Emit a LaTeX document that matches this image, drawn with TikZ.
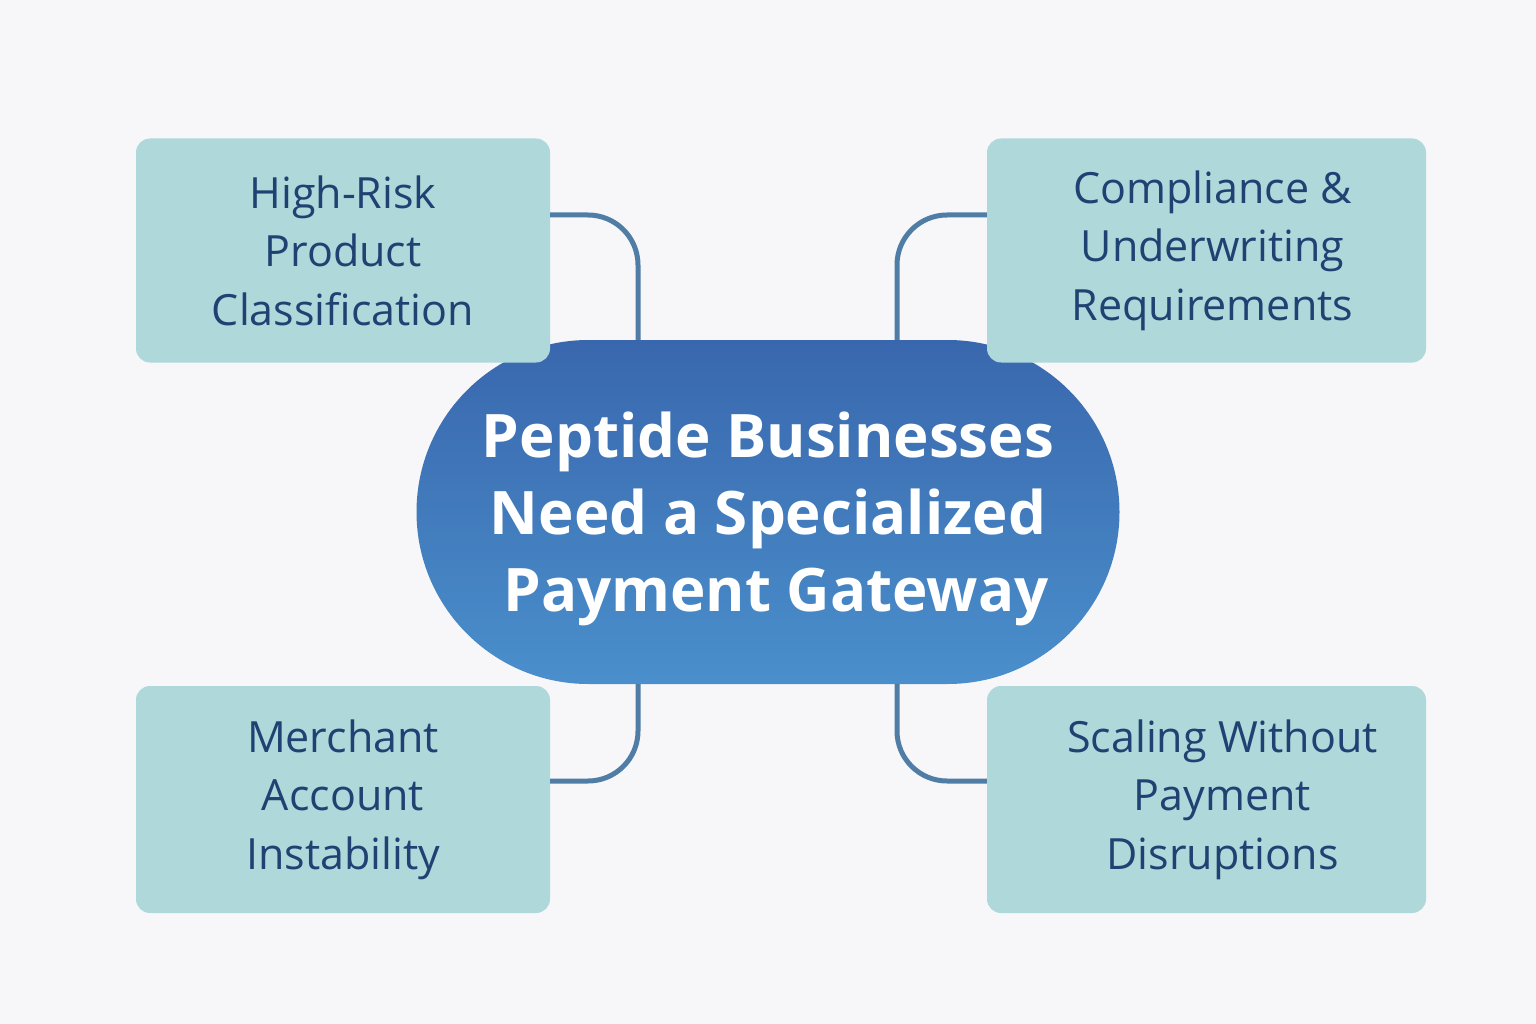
\documentclass[tikz,border=0pt]{standalone}
\usepackage{fontspec}
\setmainfont{Open Sans}
\usetikzlibrary{positioning}

\definecolor{paper}{HTML}{F7F7F9}
\definecolor{boxfill}{HTML}{AED8DA}
\definecolor{boxtext}{HTML}{1E4272}
\definecolor{linkblue}{HTML}{4F7DA6}
\definecolor{hubtop}{HTML}{3967AD}
\definecolor{hubbot}{HTML}{4A8FCC}

\tikzset{
  issue/.style={rectangle, rounded corners=14pt, fill=boxfill, text=boxtext,
    minimum width=414pt, minimum height=224pt, align=center,
    font=\fontsize{43}{58.5}\selectfont},
  hub/.style={rectangle, rounded corners=172pt, top color=hubtop, bottom color=hubbot,
    text=white, minimum width=703pt, minimum height=344pt, align=center, text depth=0pt,
    font=\fontsize{60}{77}\selectfont\bfseries},
  link/.style={draw=linkblue, line width=5pt, rounded corners=50pt}
}

\begin{document}
\begin{tikzpicture}[x=1pt,y=-1pt]
	\fill [paper] (0,0) rectangle (1536,1024);
	\useasboundingbox (0,0) rectangle (1536,1024);

	% central topic
	\node [hub] (gate) at (768,512) {Peptide Businesses\\Need a Specialized\\\hspace*{16pt}Payment Gateway};

	% four challenges
	\node [issue] (risk) at (343,250.5) {High-Risk\\Product\\Classification};
	\node [issue, minimum width=439pt] (rules) at (1206.5,250.5) {\hspace*{12pt}Compliance \&\\\hspace*{12pt}Underwriting\\\hspace*{12pt}Requirements};
	\node [issue, minimum height=227pt] (account) at (343,799.5) {Merchant\\Account\\Instability};
	\node [issue, minimum width=439pt, minimum height=227pt] (scale) at (1206.5,799.5) {\hspace*{32pt}Scaling Without\\\hspace*{32pt}Payment\\\hspace*{32pt}Disruptions};

	% connectors
	\draw [link] ([yshift=35.5pt]risk.east) -| ([xshift=-130pt]gate.north);
	\draw [link] ([yshift=35.5pt]rules.west) -| ([xshift=129pt]gate.north);
	\draw [link] ([xshift=-130pt]gate.south) |- ([yshift=18.5pt]account.east);
	\draw [link] ([xshift=129pt]gate.south) |- ([yshift=18.5pt]scale.west);
\end{tikzpicture}
\end{document}
